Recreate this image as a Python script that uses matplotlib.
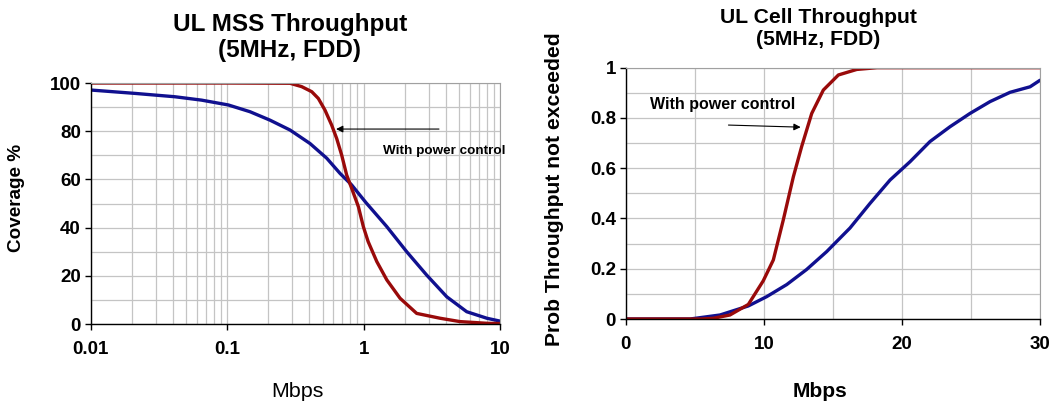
import matplotlib
matplotlib.use("Agg")
import matplotlib.pyplot as plt
from matplotlib.ticker import FixedLocator, LogLocator, NullFormatter, MultipleLocator

plt.rcParams['font.family'] = ['Liberation Sans', 'DejaVu Sans']

# ---- Left chart: UL MSS Throughput (coverage vs Mbps, log x) ----
mss_blue_x = [0.01, 0.0211, 0.0415, 0.065, 0.102, 0.147, 0.206, 0.289, 0.405, 0.537, 0.672,
              0.818, 1.04, 1.48, 2.07, 2.90, 4.07, 5.70, 8.0, 10]
mss_blue_y = [97.1, 95.7, 94.3, 92.9, 90.9, 88.1, 84.6, 80.5, 74.9, 68.8, 62.5,
              57.7, 50.4, 40.4, 30.0, 20.3, 11.3, 5.1, 2.4, 1.2]
mss_red_x = [0.01, 0.1, 0.289, 0.352, 0.417, 0.466, 0.521, 0.583, 0.635, 0.691, 0.752, 0.818,
             0.916, 0.996, 1.08, 1.25, 1.48, 1.85, 2.45, 3.63, 5.09, 8.0, 10]
mss_red_y = [100, 100, 99.9, 98.5, 96.4, 93.6, 88.8, 82.6, 77.0, 70.1, 61.8, 56.3,
             48.7, 40.4, 34.2, 25.9, 18.3, 10.7, 4.4, 2.4, 1.0, 0.3, 0.2]
mss_xticks = [0.01, 0.1, 1, 10]
mss_xticklabels = ['0.01', '0.1', '1', '10']
mss_yticks = [0, 20, 40, 60, 80, 100]

# ---- Right chart: UL Cell Throughput (CDF) ----
cell_blue_x = [0, 4.66, 6.83, 8.88, 10.21, 11.66, 13.1, 14.55, 15.52, 16.24, 17.69, 19.14, 20.59,
               22.03, 23.48, 24.93, 26.38, 27.83, 29.28, 30]
cell_blue_y = [0, 0, 0.016, 0.052, 0.089, 0.137, 0.197, 0.268, 0.322, 0.362, 0.46, 0.553, 0.626,
               0.706, 0.765, 0.818, 0.865, 0.902, 0.924, 0.95]
cell_red_x = [0, 5.5, 6.35, 7.55, 8.88, 9.96, 10.69, 11.41, 12.14, 12.74, 13.47, 14.31, 15.4,
              16.73, 18.2, 30]
cell_red_y = [0, 0, 0.003, 0.016, 0.058, 0.152, 0.235, 0.394, 0.566, 0.686, 0.818, 0.911, 0.971,
              0.993, 1.0, 1.0]
cell_xticks = [0, 10, 20, 30]
cell_yticks = [0, 0.2, 0.4, 0.6, 0.8, 1]
cell_yticklabels = ['0', '0.2', '0.4', '0.6', '0.8', '1']

RED = '#990a0a'
BLUE = '#10108f'
GRID = '#c4c4c4'

fig = plt.figure(figsize=(10.63, 4.07), dpi=100)

def style(ax):
    for s in ['top', 'right']:
        ax.spines[s].set_color('#a0a0a0')
    for s in ['left', 'bottom']:
        ax.spines[s].set_color('black')
        ax.spines[s].set_linewidth(1.0)
    ax.tick_params(which='major', length=4, width=1, labelsize=13.5, pad=3)
    ax.tick_params(which='minor', length=0)
    for lab in ax.get_xticklabels() + ax.get_yticklabels():
        lab.set_fontweight('bold')
    ax.grid(True, which='both', color=GRID, linewidth=0.9)
    ax.set_axisbelow(True)

# Left axes
ax1 = fig.add_axes([0.0853, 0.2039, 0.3851, 0.5921])
ax1.plot(mss_blue_x, mss_blue_y, color=BLUE, lw=2.4, solid_joinstyle='round', solid_capstyle='round')
ax1.plot(mss_red_x, mss_red_y, color=RED, lw=2.4, solid_joinstyle='round', solid_capstyle='round')
ax1.set_xscale('log')
ax1.set_xlim(0.01, 10)
ax1.set_ylim(0, 100)
ax1.xaxis.set_major_locator(FixedLocator(mss_xticks))
ax1.set_xticklabels(mss_xticklabels)
ax1.xaxis.set_minor_locator(LogLocator(base=10, subs=range(2, 10)))
ax1.xaxis.set_minor_formatter(NullFormatter())
ax1.set_yticks(mss_yticks)
ax1.yaxis.set_minor_locator(MultipleLocator(10))
style(ax1)
ax1.tick_params(axis='x', pad=8)
ax1.annotate('', xy=(0.6, 80.9), xytext=(3.74, 80.9),
             arrowprops=dict(arrowstyle='-|>', color='black', lw=0.8, mutation_scale=10))
ax1.text(1.38, 71.9, 'With power control', fontsize=9.7, fontweight='bold', ha='left', va='center')
ax1.text(0.504, -0.282, 'Mbps', transform=ax1.transAxes, fontsize=15.4, ha='center', va='center')
ax1.text(-0.18, 0.525, 'Coverage %', transform=ax1.transAxes, fontsize=13.6, fontweight='bold',
         rotation=90, ha='center', va='center')
fig.text(290 / 1063, 1 - 37.5 / 407, 'UL MSS Throughput\n(5MHz, FDD)', fontsize=17.5, fontweight='bold',
         ha='center', va='center', linespacing=1.2)

# Right axes
ax2 = fig.add_axes([0.5886, 0.2162, 0.3898, 0.6175])
ax2.plot(cell_blue_x, cell_blue_y, color=BLUE, lw=2.4, solid_joinstyle='round', solid_capstyle='round')
ax2.plot(cell_red_x, cell_red_y, color=RED, lw=2.4, solid_joinstyle='round', solid_capstyle='round')
ax2.set_xlim(0, 30)
ax2.set_ylim(0, 1)
ax2.set_xticks(cell_xticks)
ax2.xaxis.set_minor_locator(MultipleLocator(5))
ax2.set_yticks(cell_yticks)
ax2.set_yticklabels(cell_yticklabels)
ax2.yaxis.set_minor_locator(MultipleLocator(0.1))
style(ax2)
ax2.tick_params(axis='x', pad=8)
ax2.annotate('', xy=(12.87, 0.763), xytext=(7.24, 0.772),
             arrowprops=dict(arrowstyle='-|>', color='black', lw=0.8, mutation_scale=10))
ax2.text(1.76, 0.854, 'With power control', fontsize=11.5, fontweight='bold', ha='left', va='center')
ax2.text(0.47, -0.29, 'Mbps', transform=ax2.transAxes, fontsize=15, fontweight='bold', ha='center', va='center')
ax2.text(-0.171, 0.517, 'Prob Throughput not exceeded', transform=ax2.transAxes, fontsize=15.2,
         fontweight='bold', rotation=90, ha='center', va='center')
fig.text(818 / 1063, 1 - 28.5 / 407, 'UL Cell Throughput\n(5MHz, FDD)', fontsize=15.2, fontweight='bold',
         ha='center', va='center', linespacing=1.25)

fig.savefig('out.png', dpi=100)
